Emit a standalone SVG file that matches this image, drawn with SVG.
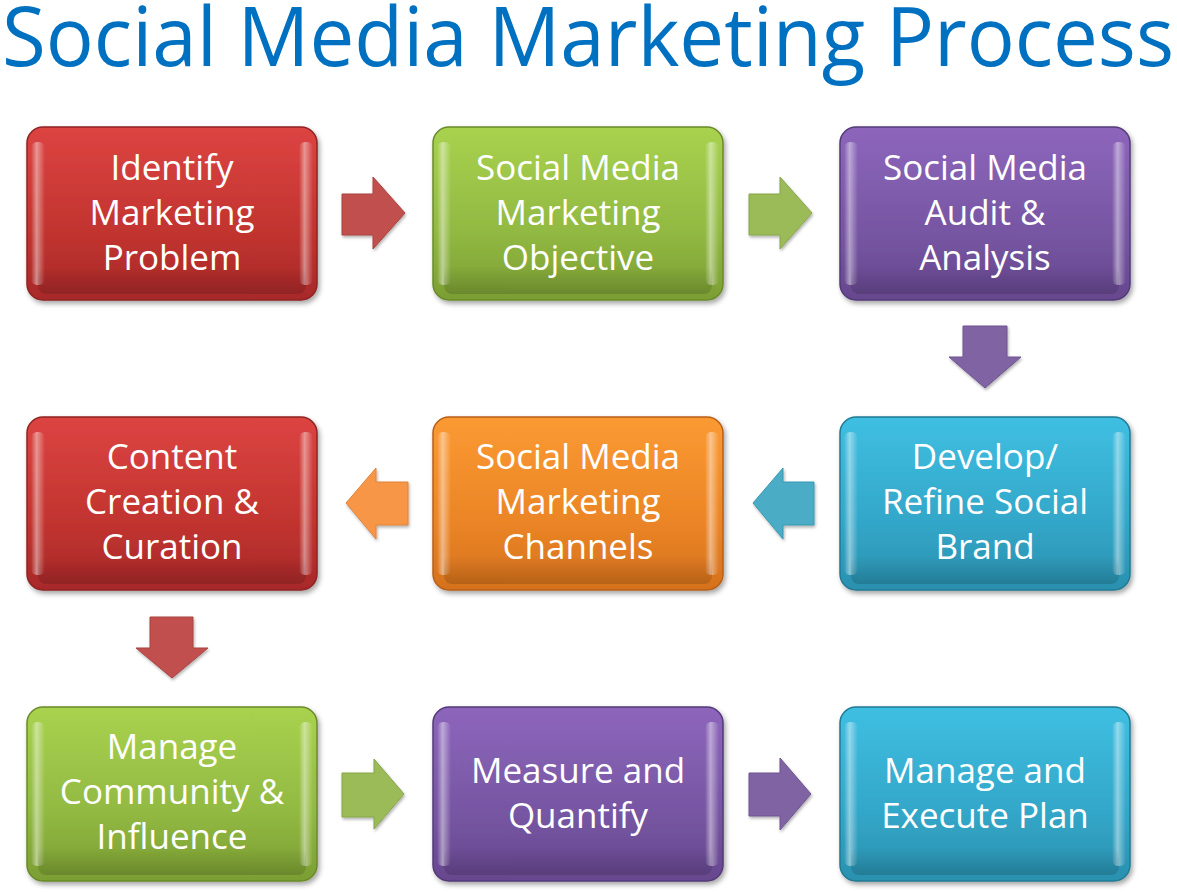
<svg xmlns="http://www.w3.org/2000/svg" width="1177" height="892" viewBox="0 0 1177 892">
<defs>
<style>
.title{font-family:"Open Sans","Liberation Sans",sans-serif;font-size:83px;fill:#0070C0;}
.lbl{font-family:"Open Sans","Liberation Sans",sans-serif;font-size:35px;fill:#FFFFFF;text-anchor:middle;}
.box{stroke-width:1.5;filter:url(#shadow);}
.hl{pointer-events:none;}
.arr{stroke-width:1;stroke-linejoin:miter;filter:url(#ashadow);}
</style>
<filter id="shadow" x="-10%" y="-10%" width="125%" height="130%">
<feDropShadow dx="2" dy="3" stdDeviation="2.5" flood-color="#000" flood-opacity="0.35"/>
</filter>
<filter id="ashadow" x="-20%" y="-20%" width="150%" height="150%">
<feDropShadow dx="1" dy="2" stdDeviation="1.5" flood-color="#000" flood-opacity="0.3"/>
</filter>
<linearGradient id="gRed" x1="0" y1="0" x2="0" y2="1">
<stop offset="0" stop-color="#DC4442"/><stop offset="0.6" stop-color="#C2342F"/><stop offset="1" stop-color="#A8282A"/>
</linearGradient>
<linearGradient id="gGreen" x1="0" y1="0" x2="0" y2="1">
<stop offset="0" stop-color="#A9D24F"/><stop offset="0.6" stop-color="#92B942"/><stop offset="1" stop-color="#7B9E33"/>
</linearGradient>
<linearGradient id="gPurple" x1="0" y1="0" x2="0" y2="1">
<stop offset="0" stop-color="#8D66BC"/><stop offset="0.6" stop-color="#7756A3"/><stop offset="1" stop-color="#66478E"/>
</linearGradient>
<linearGradient id="gCyan" x1="0" y1="0" x2="0" y2="1">
<stop offset="0" stop-color="#3FBFE2"/><stop offset="0.6" stop-color="#33A7C9"/><stop offset="1" stop-color="#2A90AE"/>
</linearGradient>
<linearGradient id="gOrange" x1="0" y1="0" x2="0" y2="1">
<stop offset="0" stop-color="#FB9A33"/><stop offset="0.6" stop-color="#EB8526"/><stop offset="1" stop-color="#D5711D"/>
</linearGradient>
<linearGradient id="hlL" x1="0" y1="0" x2="1" y2="0">
<stop offset="0" stop-color="#FFFFFF" stop-opacity="0"/><stop offset="0.4" stop-color="#FFFFFF" stop-opacity="0.45"/><stop offset="1" stop-color="#FFFFFF" stop-opacity="0"/>
</linearGradient>
<linearGradient id="hlB" x1="0" y1="0" x2="0" y2="1">
<stop offset="0" stop-color="#000000" stop-opacity="0"/><stop offset="1" stop-color="#000000" stop-opacity="0.15"/>
</linearGradient>
</defs>

<text class="title" x="2" y="66" textLength="1172" lengthAdjust="spacingAndGlyphs">Social Media Marketing Process</text>

<g id="connectors">
<path id="a1" class="arr" fill="#C0504D" stroke="#A9413E" d="M342,194 H373 V177 L405,213 L373,249 V235 H342 Z"/>
<path id="a2" class="arr" fill="#9BBB59" stroke="#86A548" d="M749,194 H780 V177 L812,213 L780,249 V235 H749 Z"/>
<path id="a3" class="arr" fill="#8064A2" stroke="#6E5490" d="M963,326 H1007 V357 H1021 L985,388 L949,357 H963 Z"/>
<path id="a4" class="arr" fill="#4BACC6" stroke="#3B98B1" d="M814,482 H783 V468 L753,503 L783,539 V525 H814 Z"/>
<path id="a5" class="arr" fill="#F79646" stroke="#E08236" d="M408,482 H376 V468 L346,503 L376,539 V525 H408 Z"/>
<path id="a6" class="arr" fill="#C0504D" stroke="#A9413E" d="M150,617 H193 V648 H208 L172,678 L136,648 H150 Z"/>
<path id="a7" class="arr" fill="#9BBB59" stroke="#86A548" d="M342,773 H374 V759 L404,794 L374,829 V817 H342 Z"/>
<path id="a8" class="arr" fill="#8064A2" stroke="#6E5490" d="M749,773 H780 V758 L811,794 L780,830 V816 H749 Z"/>
</g>

<g id="n1">
<rect class="box" x="27" y="127" width="290" height="173" rx="16" fill="url(#gRed)" stroke="#8E2422"/>
<rect class="hl" x="31" y="142" width="14" height="143" rx="6" fill="url(#hlL)"/>
<rect class="hl" x="299" y="142" width="14" height="143" rx="6" fill="url(#hlL)"/>
<rect class="hl" x="38" y="266" width="268" height="28" rx="8" fill="url(#hlB)"/>
<text class="lbl" x="172" y="180">Identify</text>
<text class="lbl" x="172" y="225">Marketing</text>
<text class="lbl" x="172" y="270">Problem</text>
</g>

<g id="n2">
<rect class="box" x="433" y="127" width="290" height="173" rx="16" fill="url(#gGreen)" stroke="#6A8A2A"/>
<rect class="hl" x="437" y="142" width="14" height="143" rx="6" fill="url(#hlL)"/>
<rect class="hl" x="705" y="142" width="14" height="143" rx="6" fill="url(#hlL)"/>
<rect class="hl" x="444" y="266" width="268" height="28" rx="8" fill="url(#hlB)"/>
<text class="lbl" x="578" y="180">Social Media</text>
<text class="lbl" x="578" y="225">Marketing</text>
<text class="lbl" x="578" y="270">Objective</text>
</g>

<g id="n3">
<rect class="box" x="840" y="127" width="290" height="173" rx="16" fill="url(#gPurple)" stroke="#533A78"/>
<rect class="hl" x="844" y="142" width="14" height="143" rx="6" fill="url(#hlL)"/>
<rect class="hl" x="1112" y="142" width="14" height="143" rx="6" fill="url(#hlL)"/>
<rect class="hl" x="851" y="266" width="268" height="28" rx="8" fill="url(#hlB)"/>
<text class="lbl" x="985" y="180">Social Media</text>
<text class="lbl" x="985" y="225">Audit &amp;</text>
<text class="lbl" x="985" y="270">Analysis</text>
</g>

<g id="n4">
<rect class="box" x="840" y="417" width="290" height="173" rx="16" fill="url(#gCyan)" stroke="#217A94"/>
<rect class="hl" x="844" y="432" width="14" height="143" rx="6" fill="url(#hlL)"/>
<rect class="hl" x="1112" y="432" width="14" height="143" rx="6" fill="url(#hlL)"/>
<rect class="hl" x="851" y="556" width="268" height="28" rx="8" fill="url(#hlB)"/>
<text class="lbl" x="985" y="469">Develop/</text>
<text class="lbl" x="985" y="514">Refine Social</text>
<text class="lbl" x="985" y="559">Brand</text>
</g>

<g id="n5">
<rect class="box" x="433" y="417" width="290" height="173" rx="16" fill="url(#gOrange)" stroke="#B85F17"/>
<rect class="hl" x="437" y="432" width="14" height="143" rx="6" fill="url(#hlL)"/>
<rect class="hl" x="705" y="432" width="14" height="143" rx="6" fill="url(#hlL)"/>
<rect class="hl" x="444" y="556" width="268" height="28" rx="8" fill="url(#hlB)"/>
<text class="lbl" x="578" y="469">Social Media</text>
<text class="lbl" x="578" y="514">Marketing</text>
<text class="lbl" x="578" y="559">Channels</text>
</g>

<g id="n6">
<rect class="box" x="27" y="417" width="290" height="173" rx="16" fill="url(#gRed)" stroke="#8E2422"/>
<rect class="hl" x="31" y="432" width="14" height="143" rx="6" fill="url(#hlL)"/>
<rect class="hl" x="299" y="432" width="14" height="143" rx="6" fill="url(#hlL)"/>
<rect class="hl" x="38" y="556" width="268" height="28" rx="8" fill="url(#hlB)"/>
<text class="lbl" x="172" y="469">Content</text>
<text class="lbl" x="172" y="514">Creation &amp;</text>
<text class="lbl" x="172" y="559">Curation</text>
</g>

<g id="n7">
<rect class="box" x="27" y="707" width="290" height="174" rx="16" fill="url(#gGreen)" stroke="#6A8A2A"/>
<rect class="hl" x="31" y="722" width="14" height="144" rx="6" fill="url(#hlL)"/>
<rect class="hl" x="299" y="722" width="14" height="144" rx="6" fill="url(#hlL)"/>
<rect class="hl" x="38" y="847" width="268" height="28" rx="8" fill="url(#hlB)"/>
<text class="lbl" x="172" y="759">Manage</text>
<text class="lbl" x="172" y="804">Community &amp;</text>
<text class="lbl" x="172" y="849">Influence</text>
</g>

<g id="n8">
<rect class="box" x="433" y="707" width="290" height="174" rx="16" fill="url(#gPurple)" stroke="#533A78"/>
<rect class="hl" x="437" y="722" width="14" height="144" rx="6" fill="url(#hlL)"/>
<rect class="hl" x="705" y="722" width="14" height="144" rx="6" fill="url(#hlL)"/>
<rect class="hl" x="444" y="847" width="268" height="28" rx="8" fill="url(#hlB)"/>
<text class="lbl" x="578" y="783">Measure and</text>
<text class="lbl" x="578" y="828">Quantify</text>
</g>

<g id="n9">
<rect class="box" x="840" y="707" width="290" height="174" rx="16" fill="url(#gCyan)" stroke="#217A94"/>
<rect class="hl" x="844" y="722" width="14" height="144" rx="6" fill="url(#hlL)"/>
<rect class="hl" x="1112" y="722" width="14" height="144" rx="6" fill="url(#hlL)"/>
<rect class="hl" x="851" y="847" width="268" height="28" rx="8" fill="url(#hlB)"/>
<text class="lbl" x="985" y="783">Manage and</text>
<text class="lbl" x="985" y="828">Execute Plan</text>
</g>
</svg>
